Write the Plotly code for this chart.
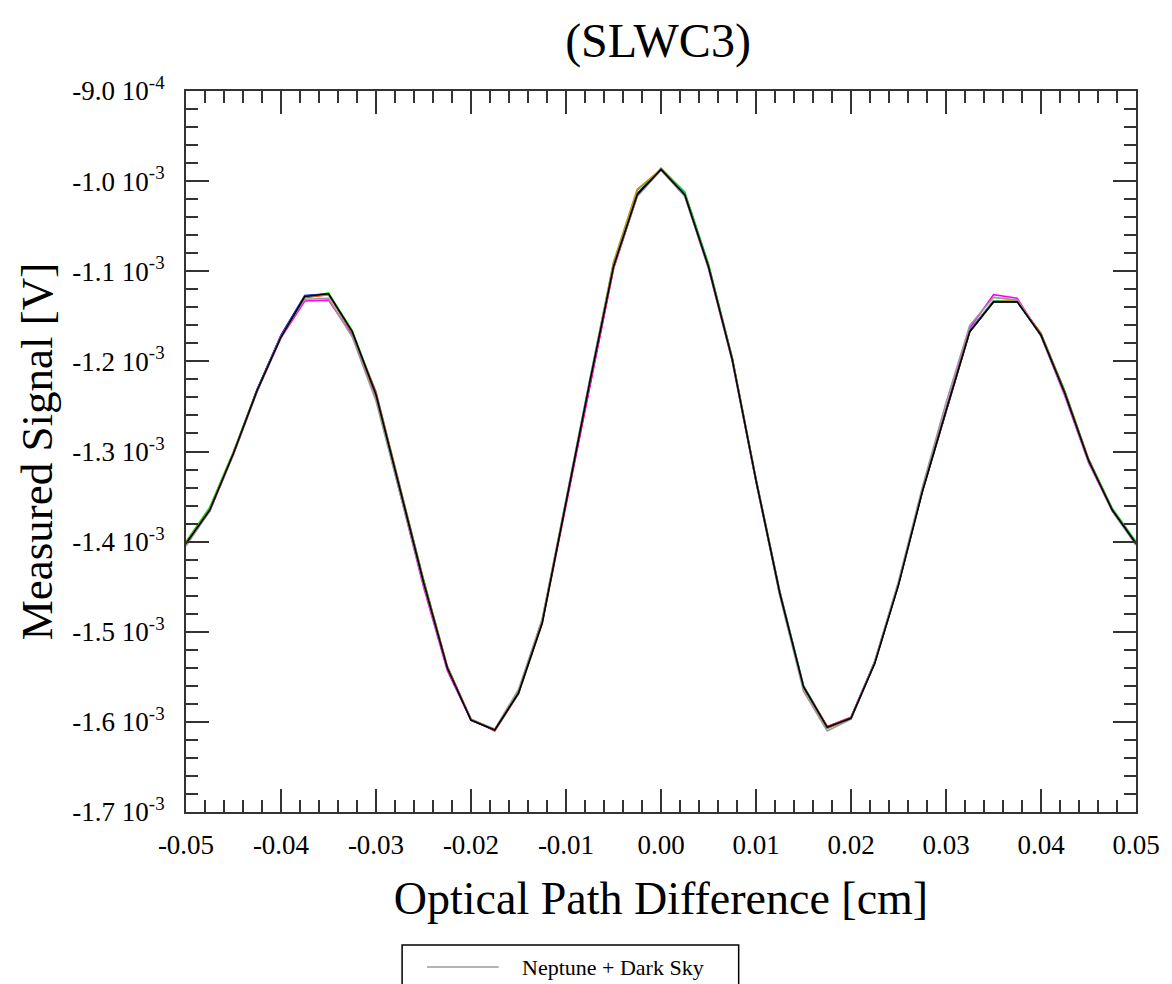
import plotly.graph_objects as go

# Optical path difference samples [cm]
opd = [-0.0500, -0.0475, -0.0450, -0.0425, -0.0400, -0.0375, -0.0350, -0.0325, -0.0300,
       -0.0275, -0.0250, -0.0225, -0.0200, -0.0175, -0.0150, -0.0125, -0.0100, -0.0075,
       -0.0050, -0.0025, 0.0000, 0.0025, 0.0050, 0.0075, 0.0100, 0.0125, 0.0150, 0.0175,
       0.0200, 0.0225, 0.0250, 0.0275, 0.0300, 0.0325, 0.0350, 0.0375, 0.0400, 0.0425,
       0.0450, 0.0475, 0.0500]

# Measured signal for each scan, in units of 1e-3 V
sig_black = [-1.402, -1.365, -1.302, -1.232, -1.173, -1.128, -1.125, -1.167, -1.237,
             -1.342, -1.445, -1.540, -1.598, -1.609, -1.568, -1.490, -1.357, -1.223,
             -1.095, -1.015, -0.987, -1.015, -1.095, -1.198, -1.332, -1.457, -1.561,
             -1.606, -1.596, -1.535, -1.448, -1.345, -1.255, -1.167, -1.134, -1.134,
             -1.171, -1.235, -1.310, -1.365, -1.402]
sig_gray = [-1.405, -1.366, -1.303, -1.233, -1.172, -1.131, -1.130, -1.173, -1.244,
            -1.345, -1.447, -1.540, -1.597, -1.608, -1.564, -1.486, -1.355, -1.222,
            -1.096, -1.017, -0.988, -1.017, -1.096, -1.199, -1.333, -1.460, -1.566,
            -1.610, -1.597, -1.533, -1.444, -1.340, -1.246, -1.160, -1.129, -1.132,
            -1.172, -1.236, -1.311, -1.366, -1.404]
sig_red = [-1.401, -1.364, -1.301, -1.231, -1.172, -1.129, -1.126, -1.168, -1.234,
           -1.338, -1.442, -1.538, -1.597, -1.610, -1.569, -1.491, -1.359, -1.225,
           -1.097, -1.016, -0.986, -1.013, -1.093, -1.196, -1.330, -1.455, -1.560,
           -1.605, -1.595, -1.534, -1.447, -1.344, -1.254, -1.166, -1.133, -1.133,
           -1.169, -1.233, -1.308, -1.364, -1.401]
sig_green = [-1.400, -1.362, -1.300, -1.231, -1.173, -1.129, -1.124, -1.166, -1.236,
             -1.340, -1.443, -1.539, -1.598, -1.609, -1.568, -1.489, -1.356, -1.222,
             -1.093, -1.014, -0.986, -1.012, -1.092, -1.196, -1.331, -1.456, -1.560,
             -1.606, -1.595, -1.533, -1.446, -1.344, -1.255, -1.167, -1.133, -1.133,
             -1.170, -1.233, -1.309, -1.363, -1.400]
sig_blue = [-1.403, -1.366, -1.302, -1.231, -1.171, -1.127, -1.125, -1.168, -1.238,
            -1.343, -1.446, -1.541, -1.598, -1.609, -1.567, -1.488, -1.356, -1.222,
            -1.094, -1.014, -0.987, -1.015, -1.095, -1.198, -1.333, -1.458, -1.562,
            -1.607, -1.596, -1.535, -1.448, -1.345, -1.255, -1.167, -1.134, -1.134,
            -1.171, -1.235, -1.310, -1.365, -1.402]
sig_cyan = [-1.402, -1.365, -1.302, -1.232, -1.173, -1.128, -1.125, -1.167, -1.237,
            -1.342, -1.445, -1.540, -1.598, -1.609, -1.568, -1.489, -1.355, -1.220,
            -1.091, -1.010, -0.987, -1.014, -1.094, -1.197, -1.331, -1.455, -1.560,
            -1.606, -1.596, -1.535, -1.447, -1.343, -1.253, -1.165, -1.133, -1.134,
            -1.171, -1.235, -1.310, -1.364, -1.401]
sig_magenta = [-1.403, -1.366, -1.303, -1.233, -1.174, -1.133, -1.132, -1.171, -1.240,
               -1.346, -1.450, -1.543, -1.598, -1.609, -1.566, -1.488, -1.357, -1.224,
               -1.097, -1.016, -0.987, -1.016, -1.097, -1.200, -1.333, -1.458, -1.562,
               -1.606, -1.595, -1.533, -1.446, -1.344, -1.252, -1.163, -1.126, -1.130,
               -1.172, -1.238, -1.312, -1.366, -1.402]
sig_orange = [-1.401, -1.364, -1.301, -1.232, -1.173, -1.128, -1.126, -1.168, -1.238,
              -1.343, -1.446, -1.540, -1.597, -1.609, -1.566, -1.486, -1.353, -1.219,
              -1.090, -1.009, -0.987, -1.015, -1.095, -1.198, -1.332, -1.457, -1.562,
              -1.607, -1.596, -1.535, -1.448, -1.344, -1.255, -1.167, -1.134, -1.132,
              -1.171, -1.235, -1.310, -1.365, -1.402]

series = [
    ("Scan red", sig_red, "#ff0000"),
    ("Scan green", sig_green, "#00e000"),
    ("Scan blue", sig_blue, "#0000ff"),
    ("Scan cyan", sig_cyan, "#00b8c8"),
    ("Scan magenta", sig_magenta, "#ff00ff"),
    ("Scan orange", sig_orange, "#c89600"),
    ("Neptune + Dark Sky", sig_gray, "#9a9a9a"),
    ("Scan black", sig_black, "#000000"),
]

x_ticks = [-0.05, -0.04, -0.03, -0.02, -0.01, 0.0, 0.01, 0.02, 0.03, 0.04, 0.05]
x_labels = ["-0.05", "-0.04", "-0.03", "-0.02", "-0.01", "0.00", "0.01", "0.02", "0.03", "0.04", "0.05"]
y_ticks = [-1.7, -1.6, -1.5, -1.4, -1.3, -1.2, -1.1, -1.0, -0.9]
y_labels = ["-1.7 10<sup>-3</sup>", "-1.6 10<sup>-3</sup>", "-1.5 10<sup>-3</sup>",
            "-1.4 10<sup>-3</sup>", "-1.3 10<sup>-3</sup>", "-1.2 10<sup>-3</sup>",
            "-1.1 10<sup>-3</sup>", "-1.0 10<sup>-3</sup>", "-9.0 10<sup>-4</sup>"]

SERIF = "Liberation Serif, Times New Roman, serif"
AXIS_COLOR = "#333333"

fig = go.Figure()
for name, vals, color in series:
    fig.add_trace(go.Scatter(x=opd, y=vals, mode="lines", name=name,
                             line=dict(color=color, width=1.6), showlegend=False))

axis_common = dict(
    showgrid=False, zeroline=False, showline=True, linewidth=2, linecolor=AXIS_COLOR,
    mirror="allticks", ticks="inside", ticklen=23, tickwidth=1.6, tickcolor=AXIS_COLOR,
    tickfont=dict(family=SERIF, size=27, color="#000000"),
)

fig.update_xaxes(
    range=[-0.05, 0.05], tickmode="array", tickvals=x_ticks, ticktext=x_labels,
    ticklabelstandoff=8,
    minor=dict(ticks="inside", ticklen=12, tickwidth=1.6, tickcolor=AXIS_COLOR,
               tick0=-0.05, dtick=0.002),
    title=dict(text="Optical Path Difference [cm]", font=dict(family=SERIF, size=46, color="#000000"),
               standoff=22),
    **axis_common,
)
fig.update_yaxes(
    range=[-1.7, -0.9], tickmode="array", tickvals=y_ticks, ticktext=y_labels,
    ticklabelstandoff=14,
    minor=dict(ticks="inside", ticklen=12, tickwidth=1.6, tickcolor=AXIS_COLOR,
               tick0=-1.7, dtick=0.02),
    title=dict(text="Measured Signal [V]", font=dict(family=SERIF, size=45, color="#000000"),
               standoff=6),
    **axis_common,
)

# Legend box sitting below the x-axis title
fig.add_shape(type="rect", xref="paper", yref="paper",
              x0=(403 - 186) / 954, x1=(741 - 186) / 954,
              y0=-(1000 - 812) / 721, y1=-(945 - 812) / 721,
              line=dict(color="#000000", width=1.5), fillcolor="white")
fig.add_shape(type="line", xref="paper", yref="paper",
              x0=(428 - 186) / 954, x1=(500 - 186) / 954,
              y0=-(967 - 812) / 721, y1=-(967 - 812) / 721,
              line=dict(color="#9a9a9a", width=1.5))
fig.add_annotation(text=series[6][0], xref="paper", yref="paper",
                   x=(521 - 186) / 954, y=-(968 - 812) / 721, xanchor="left", yanchor="middle",
                   showarrow=False, font=dict(family=SERIF, size=22, color="#000000"))

fig.update_layout(
    width=1172, height=984,
    margin=dict(l=186, r=32, t=91, b=172),
    paper_bgcolor="white", plot_bgcolor="white",
    title=dict(text="(SLWC3)", x=658 / 1172, xanchor="center", y=1 - 40 / 984, yanchor="middle",
               font=dict(family=SERIF, size=48, color="#000000")),
)

fig.write_html("out.html")
